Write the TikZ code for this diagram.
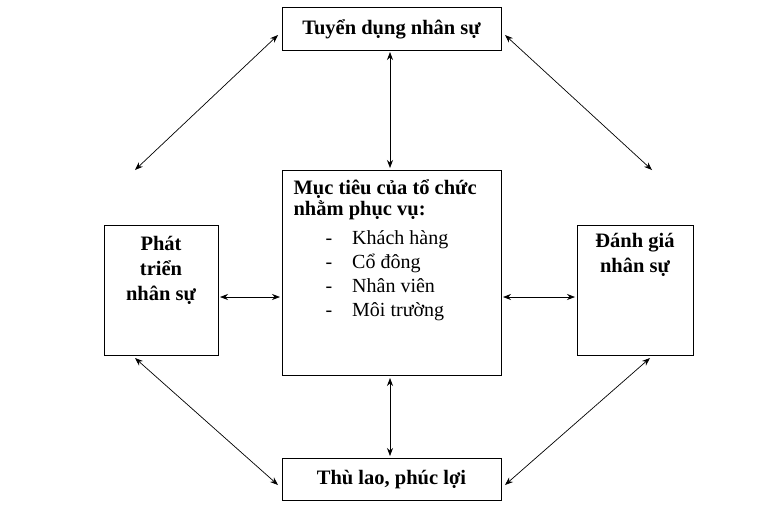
\documentclass[tikz,border=0pt]{standalone}
\usepackage{fontspec}
\setmainfont{Liberation Serif}
\usetikzlibrary{arrows.meta}
\begin{document}
\begin{tikzpicture}[x=1pt,y=-1pt,
  box/.style={draw,line width=0.8pt},
  lbl/.style={font=\fontsize{20.5}{25}\selectfont\bfseries,align=center},
  con/.style={{Stealth[length=8pt,width=6pt]}-{Stealth[length=8pt,width=6pt]},line width=0.7pt}]
\useasboundingbox (0,0) rectangle (768,512);
\draw[box] (282,7) rectangle (501,50);
\node[lbl] (top) at (391.5,29) {Tuyển dụng nhân sự};
\draw[box] (282,170) rectangle (501,375);
\node[lbl,anchor=north west,align=left,font=\fontsize{20.5}{21}\selectfont\bfseries] (ctr) at (290,176) {Mục tiêu của tổ chức\\nhằm phục vụ:};
\node[anchor=north west,align=left,font=\fontsize{20}{24}\selectfont] (lst) at (322,227)
 {-\hspace{20pt}Khách hàng\\-\hspace{20pt}Cổ đông\\-\hspace{20pt}Nhân viên\\-\hspace{20pt}Môi trường};
\draw[box] (104,225) rectangle (218,355);
\node[lbl] (lft) at (161,270) {Phát\\triển\\nhân sự};
\draw[box] (577,225) rectangle (693,355);
\node[lbl] (rgt) at (635,255) {Đánh giá\\nhân sự};
\draw[box] (282,458) rectangle (501,500);
\node[lbl] (bot) at (391.5,480) {Thù lao, phúc lợi};
\coordinate (a1) at (278,35); \coordinate (a2) at (135,170);
\coordinate (b1) at (505,35); \coordinate (b2) at (652,170);
\coordinate (c1) at (135,358); \coordinate (c2) at (278,485);
\coordinate (d1) at (650,358); \coordinate (d2) at (505,485);
\coordinate (e1) at (390,52); \coordinate (e2) at (390,168);
\coordinate (f1) at (390,378); \coordinate (f2) at (390,456);
\coordinate (g1) at (220,297); \coordinate (g2) at (280,297);
\coordinate (h1) at (503,297); \coordinate (h2) at (575,297);
\draw[con] (a1)--(a2); \draw[con] (b1)--(b2);
\draw[con] (c1)--(c2); \draw[con] (d1)--(d2);
\draw[con] (e1)--(e2); \draw[con] (f1)--(f2);
\draw[con] (g1)--(g2); \draw[con] (h1)--(h2);
\end{tikzpicture}
\end{document}
